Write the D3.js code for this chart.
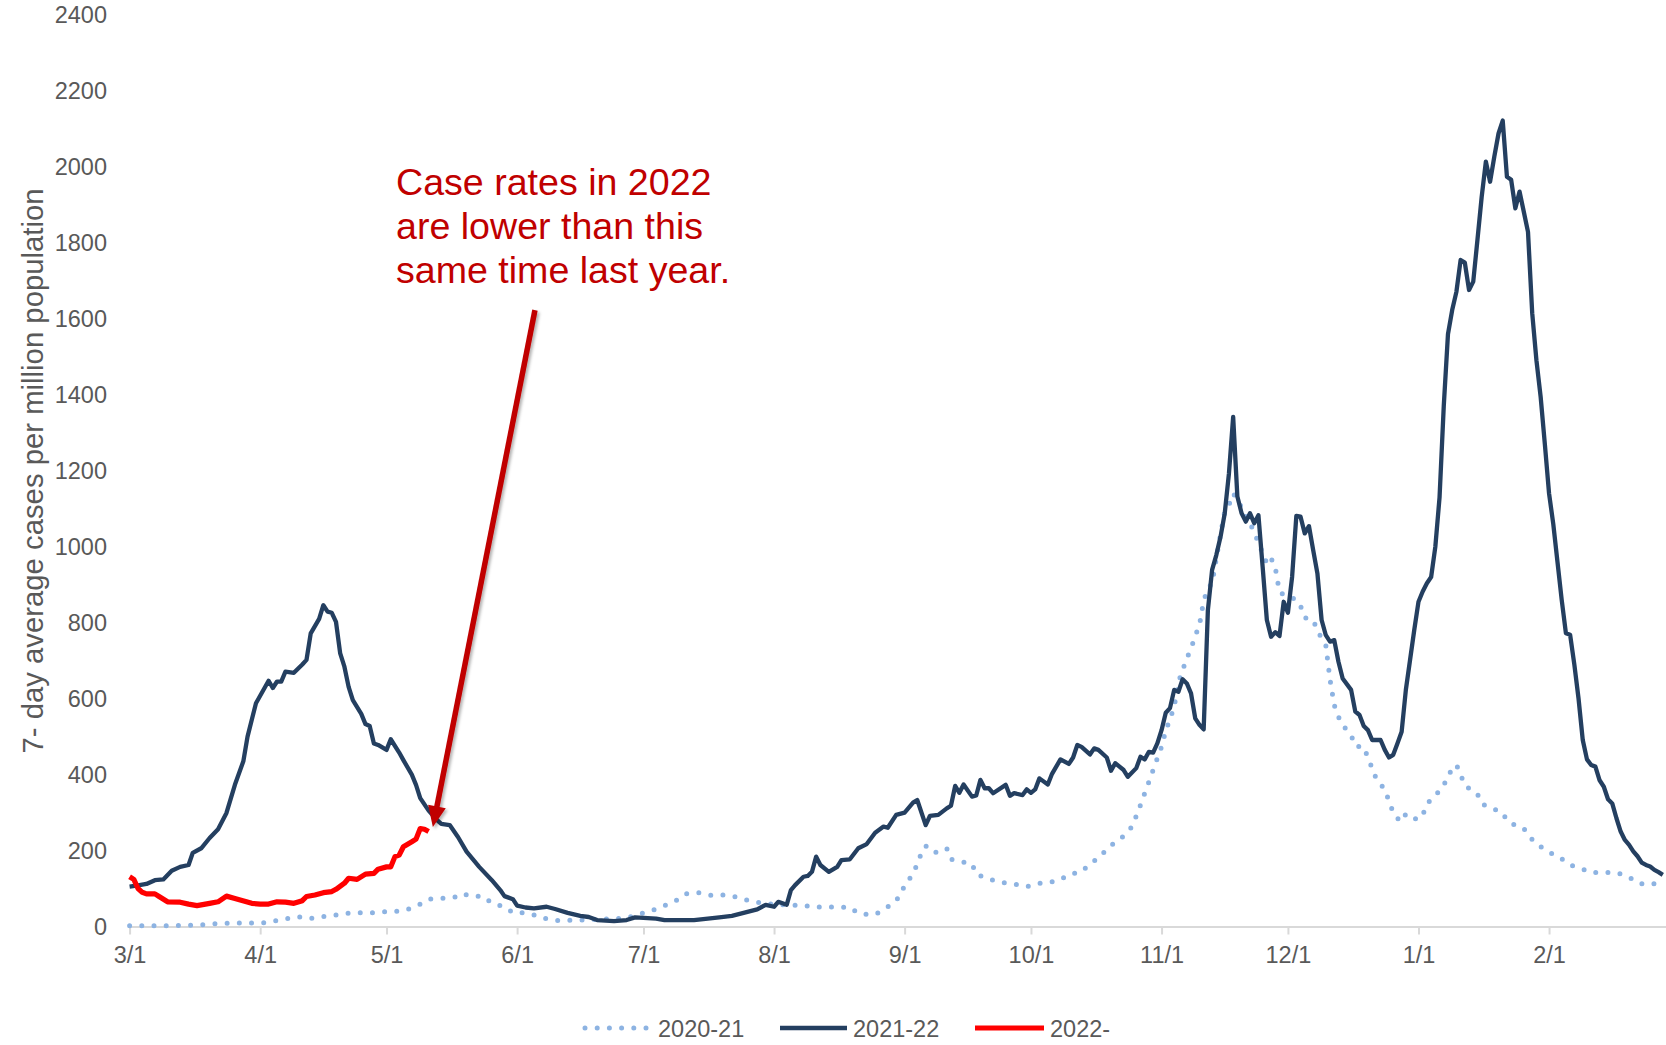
<!DOCTYPE html>
<html>
<head>
<meta charset="utf-8">
<script src="https://cdn.jsdelivr.net/npm/d3@7"></script>
<style>
  html, body { margin: 0; padding: 0; background: #ffffff; }
  svg { display: block; font-family: "Liberation Sans", Arial, sans-serif; }
</style>
</head>
<body>
<svg id="chart" width="1666" height="1045"></svg>
<script>
// ---------------- DATA (dates are month/day within a Mar–Feb season) ----------------
const seriesNames = ["2020-21", "2021-22", "2022-"];
const yTickValues = [0, 200, 400, 600, 800, 1000, 1200, 1400, 1600, 1800, 2000, 2200, 2400];
const yAxisTitle = "7- day average cases per million population";
const annotationLines = ["Case rates in 2022", "are lower than this", "same time last year."];

// 2020-21 season (dotted light blue)
const dates2020 = ["3/1","3/8","3/15","3/19","3/22","3/27","3/31","4/2","4/5","4/8","4/10","4/13","4/16","4/19","4/22","4/25","4/28",
  "5/1","5/3","5/6","5/9","5/11","5/14","5/17","5/19","5/21","5/24","5/26","5/29","5/31","6/3","6/6","6/8","6/11","6/14","6/17","6/21","6/25","6/28",
  "7/1","7/4","7/6","7/9","7/11","7/14","7/17","7/19","7/22","7/25","7/28","8/1","8/5","8/8","8/10","8/13","8/16","8/19","8/21","8/24","8/26","8/29","8/31",
  "9/1","9/3","9/4","9/5","9/6","9/8","9/11","9/12","9/14","9/17","9/18","9/20","9/22","9/25","9/27","9/30",
  "10/3","10/5","10/8","10/10","10/13","10/15","10/17","10/19","10/21","10/23","10/25","10/26","10/27","10/28","10/29","10/30","10/31",
  "11/1","11/2","11/3","11/4","11/5","11/6","11/7","11/8","11/9","11/10","11/11","11/12","11/13","11/14","11/15","11/16","11/17","11/18","11/19","11/21","11/23","11/24","11/25","11/26","11/27","11/28","11/29",
  "12/1","12/3","12/4","12/5","12/7","12/8","12/9","12/10","12/11","12/12","12/13","12/14","12/16","12/17","12/19","12/20","12/21","12/22","12/24","12/25","12/26","12/27","12/28","12/29","12/30",
  "1/1","1/2","1/3","1/5","1/7","1/8","1/10","1/11","1/12","1/15","1/16","1/18","1/21","1/22","1/25","1/26","1/28","1/30",
  "2/1","2/4","2/6","2/9","2/11","2/14","2/17","2/20","2/22","2/24","2/27","2/28"];
const cases2020 = [2,2,3,5,8,9,9,10,16,22,26,21,26,30,35,36,36,
  39,39,45,59,72,74,76,87,80,79,61,52,36,36,28,20,15,17,17,19,21,26,
  36,46,55,70,86,89,82,84,81,71,64,58,56,56,51,52,51,51,35,30,37,59,81,
  109,138,165,194,212,194,206,177,172,165,138,129,122,114,112,105,
  114,115,123,137,144,165,180,203,223,238,263,291,320,351,381,412,443,
  473,516,546,579,643,675,706,732,765,794,858,889,904,969,1032,1092,1110,1140,1125,1080,1040,1009,984,955,970,945,880,
  868,861,844,813,807,779,759,740,650,583,552,530,504,475,473,444,417,388,361,330,300,285,276,296,287,
  282,293,323,345,371,399,426,400,371,349,323,314,299,279,260,258,229,210,
  196,178,162,151,142,142,142,130,115,110,114,118];

// 2021-22 season (solid navy)
const dates2021 = ["3/1","3/3","3/5","3/7","3/9","3/11","3/13","3/15","3/16","3/18","3/20","3/22","3/24","3/26","3/28","3/29","3/31",
  "4/3","4/4","4/5","4/6","4/7","4/9","4/11","4/12","4/13","4/15","4/16","4/17","4/18","4/19","4/20","4/21","4/22","4/23","4/25","4/26","4/27","4/28","4/29",
  "5/1","5/2","5/4","5/5","5/7","5/8","5/9","5/11","5/13","5/14","5/16","5/18","5/20","5/23","5/26","5/28","5/29","5/31",
  "6/1","6/3","6/5","6/8","6/10","6/13","6/16","6/18","6/20","6/24","6/27","6/29",
  "7/4","7/6","7/13","7/19","7/22","7/28","7/30",
  "8/1","8/2","8/4","8/5","8/6","8/8","8/9","8/10","8/11","8/12","8/14","8/16","8/17","8/19","8/21","8/23","8/25","8/27","8/28","8/30",
  "9/1","9/3","9/4","9/6","9/7","9/9","9/11","9/12","9/13","9/14","9/15","9/17","9/18","9/19","9/20","9/21","9/22","9/25","9/26","9/27","9/29","9/30",
  "10/1","10/2","10/3","10/5","10/6","10/8","10/10","10/11","10/12","10/13","10/15","10/16","10/17","10/19","10/20","10/21","10/23","10/24","10/26","10/27","10/28","10/29","10/30","10/31",
  "11/1","11/2","11/3","11/4","11/5","11/6","11/7","11/8","11/9","11/10","11/11","11/12","11/13","11/14","11/15","11/16","11/17","11/18","11/19","11/20","11/21","11/22","11/23","11/24","11/25","11/26","11/27","11/28","11/29","11/30",
  "12/1","12/2","12/3","12/4","12/5","12/6","12/7","12/8","12/9","12/10","12/11","12/12","12/13","12/14","12/16","12/17","12/18","12/19","12/20","12/21","12/23","12/24","12/25","12/26","12/27","12/28","12/29","12/30","12/31",
  "1/1","1/2","1/3","1/4","1/5","1/6","1/7","1/8","1/9","1/10","1/11","1/12","1/13","1/14","1/15","1/16","1/17","1/18","1/19","1/20","1/21","1/22","1/23","1/24","1/25","1/26","1/27","1/28","1/29","1/30","1/31",
  "2/1","2/2","2/3","2/4","2/5","2/6","2/7","2/8","2/9","2/10","2/11","2/12","2/13","2/14","2/15","2/16","2/17","2/18","2/19","2/20","2/21","2/22","2/23","2/24","2/25","2/26","2/27","2/28"];
const cases2021 = [105,108,112,122,124,147,157,162,194,206,233,256,299,373,435,500,588,
  647,628,645,645,671,668,690,702,772,810,846,829,826,802,719,684,631,596,560,533,528,482,478,
  465,493,458,438,400,373,338,305,280,270,267,235,197,157,122,96,80,72,
  55,50,48,52,46,36,28,25,17,14,17,24,
  21,17,17,24,28,45,57,
  52,65,57,96,109,131,133,144,184,162,144,157,175,177,206,217,247,263,260,294,
  300,326,333,267,291,294,311,318,370,352,374,342,345,386,364,364,351,373,344,351,346,361,
  352,361,390,374,402,440,428,445,478,473,453,469,465,445,410,430,412,394,417,447,440,460,458,482,
  517,563,575,623,618,651,640,614,548,531,519,833,939,978,1026,1088,1193,1342,1132,1088,1066,1088,1062,1083,947,807,763,775,765,855,
  826,921,1081,1079,1035,1054,991,930,807,767,750,754,697,653,623,566,557,528,517,491,491,465,445,452,482,513,623,702,781,
  855,882,904,920,1000,1130,1370,1560,1623,1671,1755,1748,1676,1698,1808,1921,2014,1961,2027,2088,2122,1974,1966,1891,1935,1882,1829,1615,1491,1395,1270,
  1140,1060,960,860,772,768,690,600,491,440,425,421,385,368,335,324,285,250,228,215,198,185,168,162,158,149,143,136];

// 2022- season (solid red)
const dates2022 = ["3/1","3/2","3/3","3/4","3/5","3/7","3/8","3/10","3/13","3/15","3/17","3/20","3/22","3/24","3/26","3/30",
  "4/1","4/3","4/5","4/7","4/9","4/11","4/12","4/14","4/16","4/18","4/19","4/21","4/22","4/24","4/26","4/28","4/29",
  "5/1","5/2","5/3","5/4","5/5","5/7","5/8","5/9","5/10","5/11"];
const cases2022 = [131,124,100,90,86,86,79,65,64,59,55,61,65,80,74,61,
  59,59,65,64,61,68,79,83,89,92,98,114,127,124,138,140,151,
  157,157,184,188,210,223,230,258,256,250];

// ---------------- CHART ----------------
function seasonDate(md) {
  const [m, d] = md.split("/").map(Number);
  return new Date(m >= 3 ? 2021 : 2022, m - 1, d);
}
const toPoints = (dates, vals) => dates.map((d, i) => ({ date: seasonDate(d), value: vals[i] }));

const svg = d3.select("#chart");
const x = d3.scaleTime().domain([new Date(2021, 2, 1), new Date(2022, 2, 1)]).range([129.6, 1667]);
const y = d3.scaleLinear().domain([0, 2400]).range([926.5, 15]);

const labelColor = "#595959";
const tickFont = 23.5;

// defs: shadow for arrow
const defs = svg.append("defs");
const f = defs.append("filter").attr("id", "shadow").attr("x", "-50%").attr("y", "-10%").attr("width", "200%").attr("height", "120%");
f.append("feDropShadow").attr("dx", 2).attr("dy", 2).attr("stdDeviation", 1.6)
  .attr("flood-color", "#000").attr("flood-opacity", 0.3);

// X axis
const xAxis = d3.axisBottom(x)
  .tickValues(d3.timeMonth.range(new Date(2021, 2, 1), new Date(2022, 2, 1)))
  .tickFormat(d3.timeFormat("%-m/%-d"))
  .tickSize(8).tickSizeOuter(0).tickPadding(12);
const gx = svg.append("g").attr("transform", `translate(0,${y(0)})`).call(xAxis);
gx.select(".domain").attr("stroke", "#D9D9D9").attr("stroke-width", 2);
gx.selectAll(".tick line").attr("stroke", "#D9D9D9").attr("stroke-width", 2);
gx.selectAll(".tick text").attr("fill", labelColor).style("font-size", tickFont + "px")
  .style("font-family", "'Liberation Sans', Arial, sans-serif");

// Y axis (labels only)
const yAxis = d3.axisLeft(y).tickValues(yTickValues).tickSize(0).tickPadding(0).tickFormat(d3.format("d"));
const gy = svg.append("g").attr("transform", "translate(107,0)").call(yAxis);
gy.select(".domain").remove();
gy.selectAll(".tick text").attr("fill", labelColor).style("font-size", tickFont + "px")
  .style("font-family", "'Liberation Sans', Arial, sans-serif");

// Y title
svg.append("text")
  .attr("transform", "translate(32,471) rotate(-90)")
  .attr("text-anchor", "middle").attr("dominant-baseline", "central")
  .attr("fill", labelColor).style("font-size", "29.3px")
  .text(yAxisTitle);

// Lines
const line = d3.line().x(d => x(d.date)).y(d => y(d.value));
const styles = {
  "2020-21": { color: "#8DB3E2", width: 5, dash: "0 12.2", cap: "round" },
  "2021-22": { color: "#243F60", width: 4.3, dash: null, cap: "butt" },
  "2022-":   { color: "#FF0000", width: 5.2, dash: null, cap: "butt" }
};
const seriesData = {
  "2020-21": toPoints(dates2020, cases2020),
  "2021-22": toPoints(dates2021, cases2021),
  "2022-":   toPoints(dates2022, cases2022)
};
seriesNames.forEach(name => {
  const s = styles[name];
  svg.append("path")
    .datum(seriesData[name])
    .attr("fill", "none")
    .attr("stroke", s.color)
    .attr("stroke-width", s.width)
    .attr("stroke-linejoin", "round")
    .attr("stroke-linecap", s.cap)
    .attr("stroke-dasharray", s.dash)
    .attr("d", line);
});

// Annotation text
const ann = svg.append("text").attr("fill", "#C00000").style("font-size", "37.6px");
annotationLines.forEach((t, i) => {
  ann.append("tspan").attr("x", 396).attr("y", 195 + i * 44).text(t);
});

// Arrow (anchored in data space)
const tip = [x(seasonDate("5/12")), y(262)];
const start = [x(seasonDate("6/5")) + 1, y(1623)];
const dx = tip[0] - start[0], dy = tip[1] - start[1];
const len = Math.hypot(dx, dy);
const ux = dx / len, uy = dy / len;
const headLen = 21, headHalf = 9;
const base = [tip[0] - ux * headLen, tip[1] - uy * headLen];
const nx = -uy, ny = ux;
const arrowG = svg.append("g").attr("filter", "url(#shadow)");
arrowG.append("line")
  .attr("x1", start[0]).attr("y1", start[1])
  .attr("x2", base[0] + ux * 2).attr("y2", base[1] + uy * 2)
  .attr("stroke", "#C00000").attr("stroke-width", 5.5);
arrowG.append("path")
  .attr("d", `M${tip[0]},${tip[1]}L${base[0] + nx * headHalf},${base[1] + ny * headHalf}L${base[0] - nx * headHalf},${base[1] - ny * headHalf}Z`)
  .attr("fill", "#C00000");

// Legend
const legendY = 1028;
const legend = svg.append("g");
const legendItems = [
  { name: "2020-21", x1: 585, x2: 646.5, tx: 658 },
  { name: "2021-22", x1: 780, x2: 847, tx: 853 },
  { name: "2022-",   x1: 975, x2: 1044, tx: 1050 }
];
legendItems.forEach(it => {
  const s = styles[it.name];
  legend.append("line")
    .attr("x1", it.x1).attr("x2", it.x2).attr("y1", legendY).attr("y2", legendY)
    .attr("stroke", s.color).attr("stroke-width", s.width)
    .attr("stroke-linecap", s.cap === "round" ? "round" : "butt")
    .attr("stroke-dasharray", s.dash);
  legend.append("text")
    .attr("x", it.tx).attr("y", legendY + 8.5)
    .attr("fill", labelColor).style("font-size", tickFont + "px")
    .text(it.name);
});
</script>
</body>
</html>
